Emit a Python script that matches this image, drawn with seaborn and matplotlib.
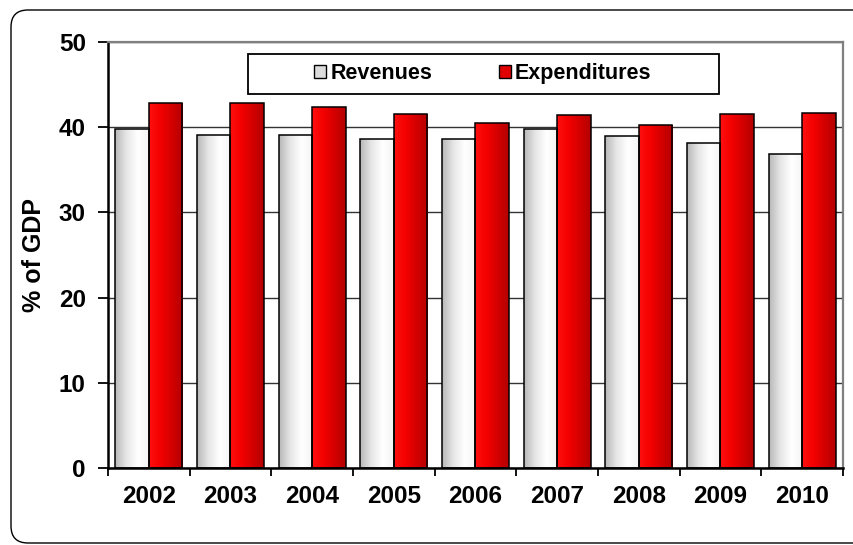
import numpy as np
import pandas as pd
import matplotlib
matplotlib.use("Agg")
import matplotlib.pyplot as plt
import seaborn as sns
from matplotlib.colors import LinearSegmentedColormap
from matplotlib.patches import Patch, Rectangle, FancyBboxPatch
from matplotlib.ticker import FixedLocator

# --- data ---
years = ["2002", "2003", "2004", "2005", "2006", "2007", "2008", "2009", "2010"]
revenues = [39.8, 39.1, 39.1, 38.6, 38.6, 39.8, 39.0, 38.2, 36.9]
expenditures = [42.8, 42.8, 42.4, 41.5, 40.5, 41.4, 40.3, 41.5, 41.7]
series = ["Revenues", "Expenditures"]

df = pd.DataFrame({
    "year": years * 2,
    "value": revenues + expenditures,
    "series": [series[0]] * len(years) + [series[1]] * len(years),
})

sns.set_theme(style="white")
plt.rcParams["font.family"] = ["Liberation Sans", "DejaVu Sans"]
plt.rcParams["font.weight"] = "bold"
for key in ["text.color", "axes.labelcolor", "xtick.color", "ytick.color"]:
    plt.rcParams[key] = "black"

fig = plt.figure(figsize=(8.54, 5.45), dpi=100)
ax = fig.add_axes([108 / 854, 1 - 468 / 545, 735 / 854, 426 / 545])

sns.barplot(data=df, x="year", y="value", hue="series",
            palette={"Revenues": "#dddddd", "Expenditures": "#e00000"},
            width=0.82, edgecolor="black", linewidth=1.1, legend=False, ax=ax)

# gradient fills like the original chart
cmaps = [
    LinearSegmentedColormap.from_list("rev", ["#b8b8b8", "#e6e6e6", "#ffffff", "#f4f4f4"]),
    LinearSegmentedColormap.from_list("exp", ["#ff1010", "#f40000", "#d40000", "#b40000"]),
]
grad = np.linspace(0, 1, 64)[np.newaxis, :]
for cont, cmap in zip(ax.containers, cmaps):
    for bar in cont:
        x0, w, h = bar.get_x(), bar.get_width(), bar.get_height()
        bar.set_facecolor("none")
        bar.set_zorder(3)
        im = ax.imshow(grad, cmap=cmap, extent=(x0, x0 + w, 0, h),
                       aspect="auto", zorder=2, interpolation="bilinear")
        im.set_clip_path(bar)

ax.set_xlim(-0.5, len(years) - 0.5)
ax.set_ylim(0, 50)
ax.set_yticks([0, 10, 20, 30, 40, 50])

# grid and frame
ax.set_axisbelow(True)
ax.yaxis.grid(True, color="#333333", linewidth=1.0)
ax.xaxis.grid(False)
for side in ["left", "bottom"]:
    ax.spines[side].set_color("black")
    ax.spines[side].set_linewidth(1.8)
for side in ["top", "right"]:
    ax.spines[side].set_color("#808080")
    ax.spines[side].set_linewidth(1.6)

# ticks: labels centred, tick marks at group boundaries
ax.xaxis.set_minor_locator(FixedLocator(np.arange(-0.5, len(years), 1.0)))
ax.tick_params(axis="x", which="major", length=0, pad=12, labelsize=17.5, labelcolor="black")
ax.tick_params(axis="x", which="minor", length=6, width=1.3, color="black", direction="out", bottom=True)
ax.tick_params(axis="y", length=7, width=1.3, color="black", direction="out", left=True,
               labelsize=17.5, pad=9, labelcolor="black")
for lab in ax.get_xticklabels() + ax.get_yticklabels():
    lab.set_fontweight("bold")

ax.set_xlabel("")
ax.set_ylabel("% of GDP", fontsize=18, fontweight="bold", labelpad=9, color="black")

# legend with its own frame
ax.add_patch(Rectangle((0.19, 0.878), 0.641, 0.094, transform=ax.transAxes,
                       facecolor="white", edgecolor="black", linewidth=1.3, zorder=5))
handles = [Patch(facecolor="#dcdcdc", edgecolor="black", linewidth=1.0, label=series[0]),
           Patch(facecolor="#e00000", edgecolor="black", linewidth=1.0, label=series[1])]
leg = ax.legend(handles=handles, loc="center", bbox_to_anchor=(0.51, 0.925), ncol=2,
                frameon=False, fontsize=15.5, handlelength=0.55, handleheight=0.55,
                handletextpad=0.2, columnspacing=3.1, borderaxespad=0)
leg.set_zorder(6)
for t in leg.get_texts():
    t.set_fontweight("bold")
    t.set_color("black")

# rounded outer border
fig.patches.append(FancyBboxPatch((0.11, 0.02), 8.6, 5.33,
                                  boxstyle="round,pad=0,rounding_size=0.17",
                                  transform=fig.dpi_scale_trans, facecolor="none",
                                  edgecolor="black", linewidth=1.0))

fig.savefig("out.png", dpi=100)
